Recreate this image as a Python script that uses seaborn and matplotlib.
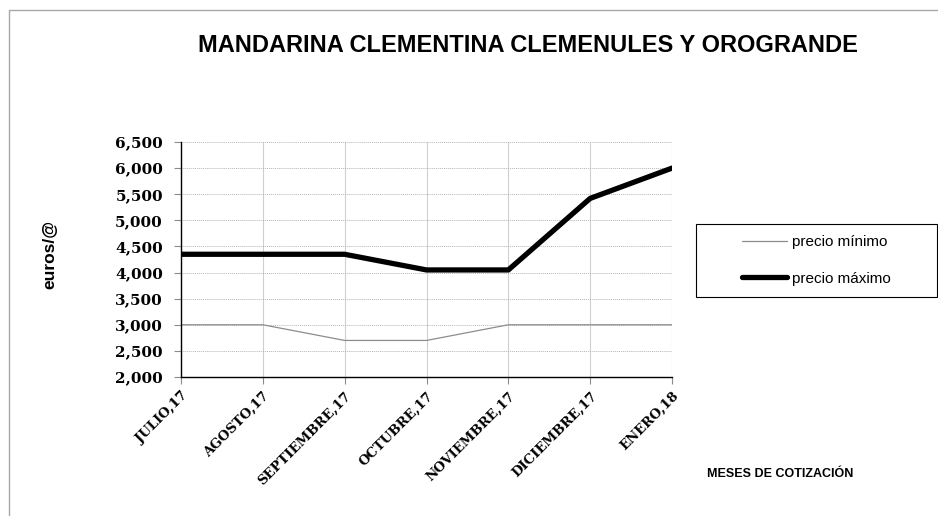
import pandas as pd
import numpy as np
import matplotlib
matplotlib.use("Agg")
import matplotlib.pyplot as plt
import seaborn as sns
from matplotlib.lines import Line2D
from matplotlib.patches import Rectangle

meses = ["JULIO,17", "AGOSTO,17", "SEPTIEMBRE,17", "OCTUBRE,17",
         "NOVIEMBRE,17", "DICIEMBRE,17", "ENERO,18"]
precio_minimo = [3000, 3000, 2700, 2700, 3000, 3000, 3000]
precio_maximo = [4350, 4350, 4350, 4050, 4050, 5420, 6000]
yticks = [2000, 2500, 3000, 3500, 4000, 4500, 5000, 5500, 6000, 6500]

sns.set_style("white")
plt.rcParams['font.family'] = ['Liberation Sans', 'DejaVu Sans']
plt.rcParams['text.color'] = 'black'
plt.rcParams['axes.labelcolor'] = 'black'
plt.rcParams['xtick.labelcolor'] = 'black'
plt.rcParams['ytick.labelcolor'] = 'black'

data = pd.DataFrame({"mes": meses, "min": precio_minimo, "max": precio_maximo})

fig = plt.figure(figsize=(9.38, 5.16), dpi=100)
ax = fig.add_axes([181 / 938, 1 - 377 / 516, 491 / 938, 235 / 516])

sns.lineplot(data=data, x="mes", y="min", ax=ax, sort=False, color="#8c8c8c",
             linewidth=0.9, label="precio mínimo")
sns.lineplot(data=data, x="mes", y="max", ax=ax, sort=False, color="black",
             linewidth=3.8, label="precio máximo")

ax.set_xlim(0, len(meses) - 1)
ax.set_ylim(2000, 6500)
ax.set_yticks(yticks)
ax.set_yticklabels(["{:,}".format(v) for v in yticks],
                   fontfamily="DejaVu Serif", fontweight="bold", fontsize=11)
ax.set_xticks(range(len(meses)))
ax.set_xticklabels(meses, rotation=45, ha="right", rotation_mode="anchor",
                   fontfamily="DejaVu Serif", fontweight="bold", fontsize=9.5)

# grid: dotted horizontal, light solid vertical
ax.yaxis.grid(True, linestyle=(0, (1, 1)), color="#b5b5b5", linewidth=0.7)
ax.xaxis.grid(True, linestyle="-", color="#d0d0d0", linewidth=0.8)
ax.set_axisbelow(True)
for s in ["top", "right"]:
    ax.spines[s].set_visible(False)
ax.spines["left"].set_color("black")
ax.spines["bottom"].set_color("black")
ax.spines["left"].set_linewidth(1)
ax.spines["bottom"].set_linewidth(1)
ax.tick_params(axis="both", direction="out", length=5, color="#8c8c8c", width=0.8,
               left=True, bottom=True)
ax.tick_params(axis="y", pad=8)
ax.tick_params(axis="x", pad=4)

ax.set_ylabel("euros/@", fontsize=12.5, fontweight="bold")
ax.yaxis.set_label_coords(-0.251, 0.52)
ax.set_xlabel("MESES DE COTIZACIÓN", fontsize=9, fontweight="bold")
ax.xaxis.set_label_coords((780 - 181) / 491, (377 - 468) / 235)

fig.text(528 / 938, 1 - 46 / 516, "MANDARINA CLEMENTINA CLEMENULES Y OROGRANDE",
         ha="center", va="center", fontsize=17, fontweight="bold")

# legend with manual frame
ax.get_legend().remove()
fig.legend(handles=ax.get_lines()[:2], labels=["precio mínimo", "precio máximo"],
           loc="center left", bbox_to_anchor=(742 / 938, 1 - 260.5 / 516),
           frameon=False, fontsize=11, handlelength=2.95, handletextpad=0.33,
           labelspacing=1.45, borderpad=0, borderaxespad=0)
fig.add_artist(Rectangle((696 / 938, 1 - 297 / 516), 241 / 938, 73 / 516,
                         transform=fig.transFigure, fill=False,
                         edgecolor="black", linewidth=0.8))

# outer chart frame
fig.add_artist(Line2D([9 / 938, 9 / 938, 1], [0, 1 - 10 / 516, 1 - 10 / 516],
                      transform=fig.transFigure, color="#a8a8a8", linewidth=1))

fig.savefig("out.png", dpi=100)
